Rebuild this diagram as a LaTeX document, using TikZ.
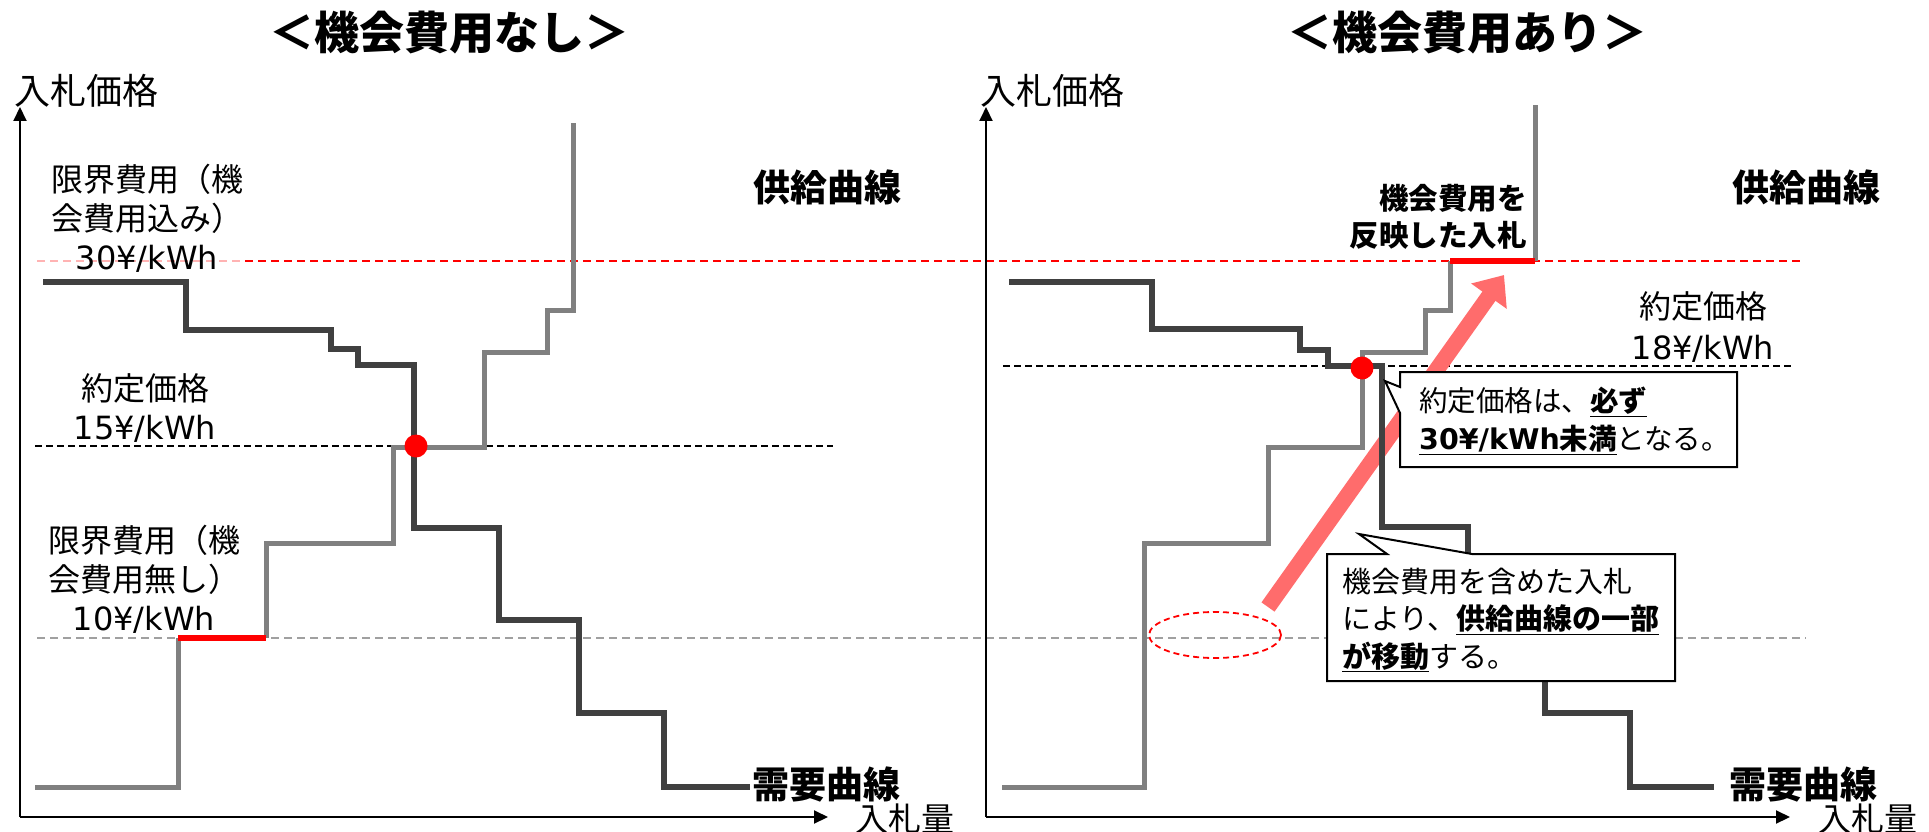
\documentclass[tikz,border=0pt]{standalone}
\usepackage{fontspec}
\setmainfont{Noto Sans CJK JP}
\newfontfamily\latf{DejaVu Sans}
\usetikzlibrary{arrows.meta}
\definecolor{supg}{HTML}{808080}
\definecolor{demg}{HTML}{404040}
\definecolor{dashg}{HTML}{A0A0A0}
\definecolor{pinkarrow}{RGB}{255,108,108}
\begin{document}
\begin{tikzpicture}[x=1pt,y=-1pt,
  supply/.style={draw=supg, line width=5pt, line join=miter},
  demand/.style={draw=demg, line width=5.5pt, line join=miter},
  redseg/.style={draw=red, line width=6pt},
  axis/.style={line width=2pt, -{Triangle[length=14pt,width=13pt]}},
  reddash/.style={red, line width=2pt, dash pattern=on 8pt off 5pt},
  blackdash/.style={black, line width=1.8pt, dash pattern=on 7pt off 4pt},
  graydash/.style={dashg, line width=2pt, dash pattern=on 8pt off 5pt},
  callout/.style={draw=black, line width=2pt, fill=white, line join=miter},
  lbl/.style={inner sep=0pt, font=\fontsize{32}{39}\selectfont, align=center},
  bigbold/.style={inner sep=0pt, font=\fontsize{37}{44}\selectfont\bfseries},
  title/.style={inner sep=0pt, font=\fontsize{45}{52}\selectfont\bfseries},
  axlbl/.style={inner sep=0pt, font=\fontsize{36}{42}\selectfont},
  ctext/.style={inner sep=0pt, font=\fontsize{28.5}{38}\selectfont, align=left}
]
\useasboundingbox (0,0) rectangle (1929,832);
\fill[white] (0,0) rectangle (1929,832);

% titles
\node[title] (t1) at (449,33) {＜機会費用なし＞};
\node[title] (t2) at (1467,33) {＜機会費用あり＞};

% dashed price lines
\draw[reddash] (37,261) -- (1800,261);
\draw[graydash] (37,638) -- (1806,638);
\draw[blackdash] (35,446) -- (833,446);
\draw[blackdash] (1003,366) -- (1793,366);

% faded strip behind the 30 yen label
\fill[white, opacity=0.7] (24,236) rectangle (240,273);

% axes
\coordinate (O1) at (20,817);
\coordinate (Y1) at (20,107);
\coordinate (X1) at (828,817);
\coordinate (O2) at (986,817);
\coordinate (Y2) at (986,107);
\coordinate (X2) at (1790,817);
\draw[axis] (O1) -- (Y1);
\draw[axis] (O1) -- (X1);
\draw[axis] (O2) -- (Y2);
\draw[axis] (O2) -- (X2);

\node[axlbl] (yl1) at (86,91) {入札価格};
\node[axlbl] (yl2) at (1052,91) {入札価格};
\node[axlbl, anchor=west, font=\fontsize{33}{40}\selectfont] (xl1) at (855,819) {入札量};
\node[axlbl, anchor=west, font=\fontsize{33}{40}\selectfont] (xl2) at (1818,819) {入札量};

% left labels
\node[lbl] (mc1) at (147,218) {限界費用（機\\会費用込み）\\{\latf 30¥/kWh}};
\node[lbl] (cp1) at (145,408) {約定価格\\{\latf 15¥/kWh}};
\node[lbl] (mc2) at (144,579) {限界費用（機\\会費用無し）\\{\latf 10¥/kWh}};

% big pink arrow (behind curves)
\coordinate (atail) at (1268,607);
\coordinate (ahead) at (1504,275);
\draw[pinkarrow, line width=16pt, -{Triangle[length=26pt,width=42pt]}] (atail) -- (ahead);

% left curves
\draw[supply] (35,787) -- (178,787) -- (178,638);
\draw[supply] (266,638) -- (266,543) -- (393,543) -- (393,447) -- (484,447) -- (484,352) -- (547,352) -- (547,310) -- (573,310) -- (573,123);
\draw[redseg] (178,638) -- (266,638);
\draw[demand] (43,282) -- (186,282) -- (186,330) -- (331,330) -- (331,349) -- (358,349) -- (358,365) -- (414,365) -- (414,528) -- (499,528) -- (499,620) -- (579,620) -- (579,713) -- (664,713) -- (664,787) -- (750,787);
\fill[red] (416,446) circle [radius=11.5pt];

% right curves
\draw[supply] (1002,787) -- (1144,787) -- (1144,543) -- (1268,543) -- (1268,447) -- (1362,447) -- (1362,352) -- (1425,352) -- (1425,310) -- (1450,310) -- (1450,261);
\draw[supply] (1535,261) -- (1535,105);
\draw[redseg] (1450,261) -- (1535,261);
\draw[demand] (1009,282) -- (1152,282) -- (1152,329) -- (1300,329) -- (1300,350) -- (1328,350) -- (1328,366) -- (1382,366) -- (1382,527) -- (1468,527) -- (1468,620) -- (1545,620) -- (1545,713) -- (1630,713) -- (1630,787) -- (1714,787);
\fill[red] (1362,368) circle [radius=11.5pt];

% dashed ellipse
\draw[red, line width=1.8pt, dash pattern=on 6pt off 4pt] (1215,635) ellipse [x radius=66pt, y radius=23pt];

% curve labels
\node[bigbold] (sc1) at (827,187) {供給曲線};
\node[bigbold] (dc1) at (826,784) {需要曲線};
\node[bigbold] (sc2) at (1806,187) {供給曲線};
\node[bigbold] (dc2) at (1803,784) {需要曲線};

% right labels
\node[inner sep=0pt, font=\fontsize{29.5}{37}\selectfont\bfseries, align=right, anchor=east] (ocb) at (1527,217) {機会費用を\\反映した入札};
\node[lbl, font=\fontsize{32}{41}\selectfont] (cp2) at (1703,327) {約定価格\\{\latf 18¥/kWh}};

% callout 1
\draw[callout] (1400,372) -- (1737,372) -- (1737,467) -- (1400,467) -- (1400,413) -- (1385,381) -- (1400,387) -- cycle;
\node[ctext, anchor=west] (c1) at (1419,421) {約定価格は、\underline{\textbf{必ず}}\\\underline{\textbf{{\latf 30¥/kWh}未満}}となる。};

% callout 2
\draw[callout] (1327,554) -- (1387,554) -- (1359,534) -- (1472,554) -- (1675,554) -- (1675,681) -- (1327,681) -- cycle;
\node[ctext, font=\fontsize{29}{37.5}\selectfont, anchor=west] (c2) at (1342,620) {機会費用を含めた入札\\により、\underline{\textbf{供給曲線の一部}}\\\underline{\textbf{が移動}}する。};
\end{tikzpicture}
\end{document}
